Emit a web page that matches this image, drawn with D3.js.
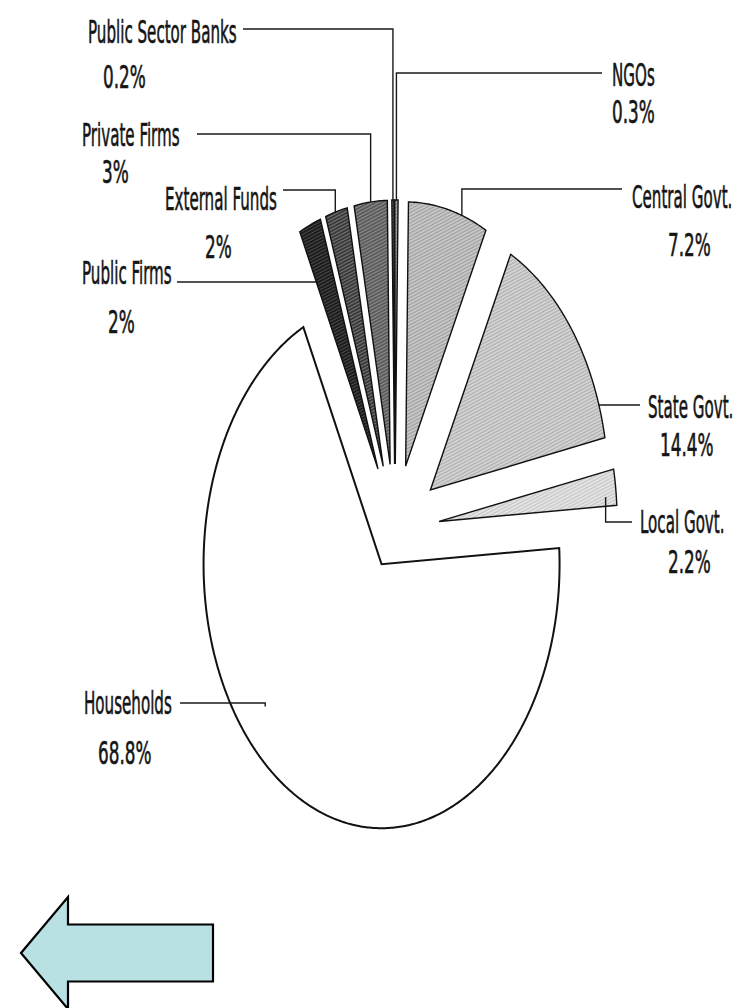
<!DOCTYPE html>
<html>
<head>
<meta charset="utf-8">
<script src="https://cdn.jsdelivr.net/npm/d3@7"></script>
<style>
  html, body { margin: 0; padding: 0; background: #ffffff; }
  svg { display: block; }
  text { font-family: "Liberation Sans Narrow", "Arial Narrow", "DejaVu Sans Condensed", sans-serif; fill: #151515; }
</style>
</head>
<body>
<svg id="chart" width="740" height="1008"></svg>
<script>
// Shares of funding sources, listed clockwise starting from Households
const categories = ["Households", "Public Firms", "External Funds", "Private Firms",
                    "Public Sector Banks", "NGOs", "Central Govt.", "State Govt.", "Local Govt."];
const shares = [68.8, 2, 2, 3, 0.2, 0.3, 7.2, 14.4, 2.2];
const shareLabels = ["68.8%", "2%", "2%", "3%", "0.2%", "0.3%", "7.2%", "14.4%", "2.2%"];

// ---- layout & style ----
const W = 740, H = 1008;
const center = { x: 395, y: 530 };       // pie centre before slices are pulled out
const radiusX = 178, radiusY = 264;      // the pie is drawn as an upright ellipse
const rotationDeg = -3.5;                // Households begins just short of 3 o'clock
const explode = { default: 0.25, "Households": 0.15 };

const sliceStyle = {
  "Households":          { base: "#ffffff", hatch: null },
  "Public Firms":        { base: "#1c1c1c", hatch: "#4a4a4a" },
  "External Funds":      { base: "#3a3a3a", hatch: "#777777" },
  "Private Firms":       { base: "#5c5c5c", hatch: "#8e8e8e" },
  "Public Sector Banks": { base: "#505050", hatch: "#808080" },
  "NGOs":                { base: "#8a8a8a", hatch: "#b0b0b0" },
  "Central Govt.":       { base: "#c6c6c6", hatch: "#9c9c9c" },
  "State Govt.":         { base: "#d2d2d2", hatch: "#acacac" },
  "Local Govt.":         { base: "#e3e3e3", hatch: "#c4c4c4" }
};

// label text positions, leader start, and where the leader meets its slice
// (anchor = [fraction across the slice angle, fraction of radius])
const labelLayout = {
  "Public Sector Banks": { name: [88, 43],  value: [103, 88],  lead: [243, 29],  anchor: [0.5, 1.0] },
  "NGOs":                { name: [612, 86], value: [612, 123], lead: [602, 73],  anchor: [0.5, 1.0] },
  "Private Firms":       { name: [82, 146], value: [102, 183], lead: [197, 134], anchor: [0.5, 1.0] },
  "External Funds":      { name: [165, 210],value: [205, 258], lead: [283, 190], anchor: [0.45, 1.0] },
  "Public Firms":        { name: [82, 284], value: [108, 333], lead: [177, 282], anchor: [0.02, 0.78] },
  "Central Govt.":       { name: [632, 208],value: [668, 256], lead: [622, 189], anchor: [0.676, 1.0] },
  "State Govt.":         { name: [648, 418],value: [660, 456], lead: [640, 405], anchor: [0.857, 1.0] },
  "Local Govt.":         { name: [640, 533],value: [668, 573], lead: [632, 522], anchor: [0.73, 0.94] },
  "Households":          { name: [84, 714], value: [98, 764],  lead: [180, 703], anchor: [0.582, 0.847] }
};
const fontSize = 32, nameSqueeze = 0.525, valueSqueeze = 0.585;

const svg = d3.select("#chart");
svg.append("rect").attr("width", W).attr("height", H).attr("fill", "#ffffff");

// ---- hatched fills ----
const defs = svg.append("defs");
const fillId = name => "fill-" + name.replace(/[^A-Za-z]/g, "");
categories.forEach(name => {
  const s = sliceStyle[name];
  if (!s.hatch) return;
  const p = defs.append("pattern")
    .attr("id", fillId(name))
    .attr("patternUnits", "userSpaceOnUse")
    .attr("width", 3).attr("height", 3)
    .attr("patternTransform", "rotate(62)");
  p.append("rect").attr("width", 3).attr("height", 3).attr("fill", s.base);
  p.append("line").attr("x1", 0.5).attr("y1", 0).attr("x2", 0.5).attr("y2", 3)
    .attr("stroke", s.hatch).attr("stroke-width", 1);
});

// ---- pie geometry ----
const rot = rotationDeg * Math.PI / 180;
const pie = d3.pie().sort(null).value(d => d.value)
  .startAngle(Math.PI / 2 + rot)
  .endAngle(Math.PI / 2 + rot + 2 * Math.PI);

const data = categories.map((c, i) => ({ name: c, value: shares[i], label: shareLabels[i] }));
const arcs = pie(data);

// unit pie, stretched to the ellipse through a path context
function ellipseContext() {
  const p = d3.path();
  let started = false;
  const map = (x, y) => [x * radiusX, y * radiusY];
  return {
    moveTo(x, y) { const q = map(x, y); p.moveTo(q[0], q[1]); started = true; },
    lineTo(x, y) { const q = map(x, y); p.lineTo(q[0], q[1]); started = true; },
    arc(x, y, r, a0, a1) {
      const n = Math.max(2, Math.ceil(Math.abs(a1 - a0) / 0.01));
      for (let i = 0; i <= n; i++) {
        const a = a0 + (a1 - a0) * i / n;
        const q = map(x + r * Math.cos(a), y + r * Math.sin(a));
        if (!started) { p.moveTo(q[0], q[1]); started = true; } else p.lineTo(q[0], q[1]);
      }
    },
    closePath() { p.closePath(); },
    toString() { return p.toString(); }
  };
}
function slicePath(d) {
  const ctx = ellipseContext();
  d3.arc().innerRadius(0).outerRadius(1).context(ctx)(d);
  return ctx.toString();
}
function sliceOrigin(d) {
  const e = explode[d.data.name] ?? explode.default;
  const m = (d.startAngle + d.endAngle) / 2;
  return [center.x + e * radiusX * Math.sin(m), center.y - e * radiusY * Math.cos(m)];
}
function slicePoint(d, f, r) {
  const o = sliceOrigin(d);
  const a = d.startAngle + f * (d.endAngle - d.startAngle);
  return [o[0] + r * radiusX * Math.sin(a), o[1] - r * radiusY * Math.cos(a)];
}

const slices = svg.append("g").attr("class", "slices")
  .selectAll("g").data(arcs).join("g")
  .attr("transform", d => { const o = sliceOrigin(d); return `translate(${o[0]},${o[1]})`; });

slices.append("path")
  .attr("d", slicePath)
  .attr("fill", d => sliceStyle[d.data.name].hatch ? `url(#${fillId(d.data.name)})` : sliceStyle[d.data.name].base)
  .attr("stroke", "#111")
  .attr("stroke-width", d => d.data.name === "Households" ? 2 : 1.4)
  .attr("stroke-linejoin", "miter");

// ---- leaders & labels ----
const labels = svg.append("g").attr("class", "labels");
arcs.forEach(d => {
  const L = labelLayout[d.data.name];
  const pt = slicePoint(d, L.anchor[0], L.anchor[1]);
  const path = d3.path();
  path.moveTo(L.lead[0], L.lead[1]);
  path.lineTo(pt[0], L.lead[1]);
  path.lineTo(pt[0], pt[1]);
  labels.append("path").attr("d", path.toString())
    .attr("fill", "none").attr("stroke", "#1a1a1a").attr("stroke-width", 1.4);

  labels.append("text")
    .attr("transform", `translate(${L.name[0]},${L.name[1]}) scale(${nameSqueeze},1)`)
    .attr("font-size", fontSize)
    .attr("stroke", "#151515").attr("stroke-width", 0.6)
    .text(d.data.name);
  labels.append("text")
    .attr("transform", `translate(${L.value[0]},${L.value[1]}) scale(${valueSqueeze},1)`)
    .attr("font-size", fontSize)
    .attr("stroke", "#151515").attr("stroke-width", 0.6)
    .text(d.data.label);
});

// ---- back arrow ----
const arrow = { tipX: 21, headX: 68, endX: 213, midY: 953, shaftHalf: 28.5, headHalf: 56 };
const ap = d3.path();
ap.moveTo(arrow.tipX, arrow.midY);
ap.lineTo(arrow.headX, arrow.midY - arrow.headHalf);
ap.lineTo(arrow.headX, arrow.midY - arrow.shaftHalf);
ap.lineTo(arrow.endX, arrow.midY - arrow.shaftHalf);
ap.lineTo(arrow.endX, arrow.midY + arrow.shaftHalf);
ap.lineTo(arrow.headX, arrow.midY + arrow.shaftHalf);
ap.lineTo(arrow.headX, arrow.midY + arrow.headHalf);
ap.closePath();
svg.append("path").attr("d", ap.toString())
  .attr("fill", "#b9e0e3").attr("stroke", "#000").attr("stroke-width", 2.2)
  .attr("stroke-linejoin", "miter");
</script>
</body>
</html>
